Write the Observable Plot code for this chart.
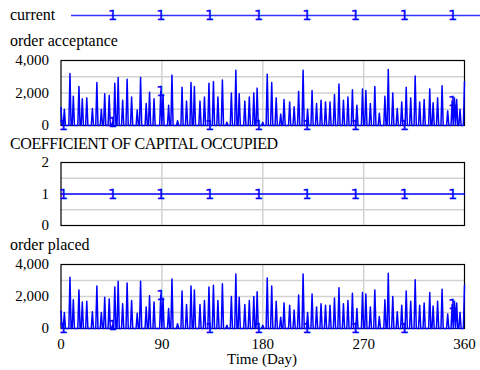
<!DOCTYPE html>
<html><head><meta charset="utf-8">
<script src="https://cdn.jsdelivr.net/npm/d3@7"></script>
<script src="https://cdn.jsdelivr.net/npm/@observablehq/plot@0.6"></script>
<style>
body{margin:0;background:#fff;}
#wrap{position:relative;width:480px;height:370px;overflow:hidden;background:#fff;font-family:'Liberation Serif','Times New Roman',serif;color:#000;}
.t{position:absolute;left:10px;font-size:16px;white-space:nowrap;line-height:1;font-family:'Liberation Serif',serif;}
.p{position:absolute;left:0;}
</style></head><body><div id="wrap"></div>
<script>
// ---- data ----
const titles = ["current", "order acceptance", "COEFFICIENT OF CAPITAL OCCUPIED", "order placed"];
const xLabel = "Time (Day)";
const xTicks = [0, 90, 180, 270, 360];
const orderTicks = [0, 2000, 4000];
const coefTicks = [0, 1, 2];
// days (0..360) on which orders arrive, and the amount (other days are 0)
const spikeDays = [0,3,8,11,16,19,23,28,32,36,39,43,46,48,51,55,59,63,68,71,76,79,83,89,91,96,99,104,108,112,116,119,124,128,132,136,140,144,148,152,156,159,
  164,168,172,175,180,184,188,192,196,199,204,208,212,216,220,224,228,232,236,240,244,248,252,256,260,264,269,272,276,280,284,289,292,296,300,304,308,312,316,320,324,329,332,336,340,345,349,351,353,356,360];
const spikeValues = [1100,1000,3200,1800,2400,1650,1700,1050,2650,1000,1950,1850,200,2600,2950,1550,2850,1750,950,2950,1350,2050,1650,2100,1900,1250,3100,300,2350,1500,2650,2400,1500,1750,2600,2700,1750,2800,200,2000,3400,1950,
  1500,1750,2000,2300,200,3150,2650,1700,700,1600,1450,1150,2100,3400,1000,2150,1350,1550,1450,1450,1900,2550,1550,1750,2200,1250,2250,2150,1350,2400,750,1800,3450,2000,1050,1450,2350,1700,3050,1450,1600,2250,1400,1700,2450,900,1500,1700,1600,1000,2700];
const coefTimes = [0, 360];
const coefValues = [1, 1];
// positions (days) of the Vensim line markers "1"
const markerTimes = [2.2, 46.0, 89.2, 132.5, 176.2, 219.4, 262.6, 306.3, 349.4];

// ---- build tables ----
const lookup = new Map(spikeDays.map((d, i) => [d, spikeValues[i]]));
const orders = d3.range(0, 361).map(d => ({t: d, v: lookup.get(d) ?? 0}));
const orderMarkers = markerTimes.map(t => ({t, v: lookup.get(Math.round(t)) ?? 0}));
const coef = coefTimes.map((t, i) => ({t, v: coefValues[i]}));
const coefMarkers = markerTimes.map(t => ({t, v: 1}));

const BLUE = "#0000ff";
const GRID = "#d2d2d2";
const ML = 60.5, MR = 16;
const svgStyle = "font-family:'Liberation Serif',serif;font-size:15px;background:transparent;overflow:visible;";
const markerText = (data) => Plot.text(data, {x: "t", y: "v", text: () => "1", fill: BLUE, stroke: BLUE, strokeWidth: 0.3, fontSize: 14.5, fontFamily: "'DejaVu Sans',sans-serif", lineAnchor: "middle"});

const wrap = document.getElementById("wrap");
function place(node, top) { node.classList.add("p"); node.style.top = top + "px"; wrap.appendChild(node); }
function label(text, top, extra) { const d = document.createElement("div"); d.className = "t"; d.textContent = text; d.style.top = top + "px"; if (extra) Object.assign(d.style, extra); wrap.appendChild(d); }

// legend
place(Plot.plot({
  width: 480, height: 30, marginLeft: ML, marginRight: MR, marginTop: 0, marginBottom: 0,
  style: svgStyle,
  x: {domain: [0, 360], axis: null},
  y: {domain: [-1, 1], axis: null},
  marks: [
    Plot.ruleY([0], {x1: 9.4, x2: 380, stroke: BLUE, strokeWidth: 1.5, strokeOpacity: 0.8, clip: false}),
    markerText(markerTimes.slice(1).map(t => ({t, v: 0})))
  ]
}), 0);

function orderPanel(height, mb, showX) {
  return Plot.plot({
    width: 480, height, marginLeft: ML, marginRight: MR, marginTop: 10, marginBottom: mb,
    style: svgStyle,
    x: {domain: [0, 360], axis: null},
    y: {domain: [0, 4000], axis: null},
    marks: [
      Plot.gridX([90, 180, 270], {stroke: GRID, strokeOpacity: 1, strokeWidth: 1.5}),
      Plot.gridY([1000, 2000, 3000], {stroke: GRID, strokeOpacity: 1, strokeWidth: 1.5}),
      Plot.axisY(orderTicks, {tickSize: 0, tickPadding: 12, tickFormat: d3.format(","), fontSize: 15, fontFamily: "'Liberation Serif',serif", label: null}),
      showX ? Plot.axisX(xTicks, {tickSize: 0, tickPadding: 9.5, fontSize: 15, fontFamily: "'Liberation Serif',serif", label: null}) : null,
      Plot.frame({stroke: "#000", strokeWidth: 1.2}),
      Plot.line(orders, {x: "t", y: "v", stroke: BLUE, strokeWidth: 1.5}),
      markerText(orderMarkers)
    ]
  });
}

label(titles[0], 7.3);
label(titles[1], 32.6);
place(orderPanel(90, 15, false), 50);

label(titles[2], 135.9, {letterSpacing: "-0.4px"});
place(Plot.plot({
  width: 480, height: 83, marginLeft: ML, marginRight: MR, marginTop: 10, marginBottom: 10,
  style: svgStyle,
  x: {domain: [0, 360], axis: null},
  y: {domain: [0, 2], axis: null},
  marks: [
    Plot.gridX([90, 180, 270], {stroke: GRID, strokeOpacity: 1, strokeWidth: 1.5}),
    Plot.gridY([0.5, 1.5], {stroke: GRID, strokeOpacity: 1, strokeWidth: 1.5}),
    Plot.axisY(coefTicks, {tickSize: 0, tickPadding: 12, fontSize: 15, fontFamily: "'Liberation Serif',serif", label: null}),
    Plot.frame({stroke: "#000", strokeWidth: 1.2}),
    Plot.line(coef, {x: "t", y: "v", stroke: BLUE, strokeWidth: 1.5}),
    markerText(coefMarkers)
  ]
}), 152);

label(titles[3], 236.6);
place(orderPanel(116, 42, true), 254);

label(xLabel, 352, {left: "0", width: "480px", textAlign: "center", fontSize: "15px", paddingLeft: "44px", boxSizing: "border-box"});
</script>
</body></html>
